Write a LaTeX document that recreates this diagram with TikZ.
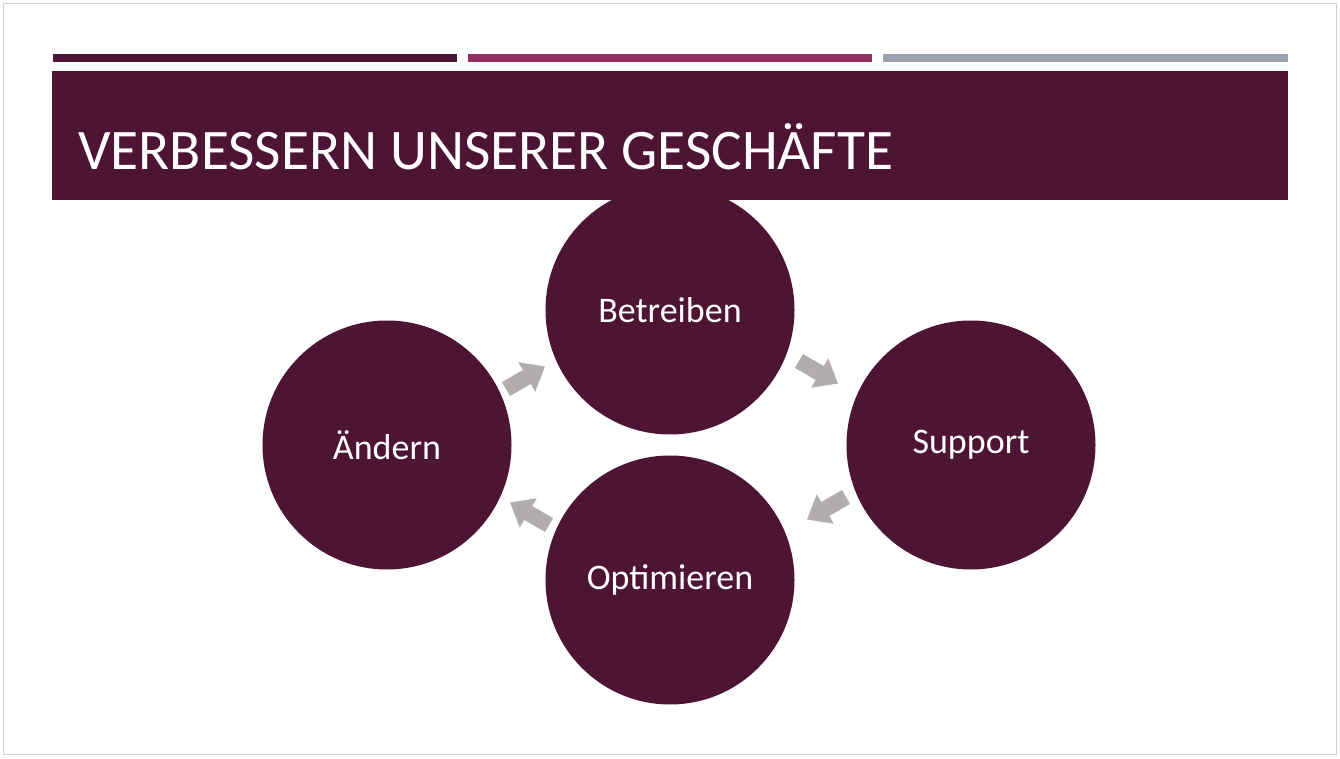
\documentclass[tikz,border=0pt]{standalone}
\usepackage{fontspec}
\setmainfont{Carlito}
\definecolor{dk}{HTML}{4E1433}
\definecolor{mg}{HTML}{93305F}
\definecolor{gr}{HTML}{9AA2AB}
\definecolor{ar}{HTML}{B1ACAE}
\begin{document}
\begin{tikzpicture}[x=0.75pt,y=0.75pt,
 circ/.style={circle,fill=dk,minimum size=249*0.75pt,inner sep=0pt,text=white,font=\fontsize{27}{30}\selectfont},
 blockarrow/.pic={\fill[ar] (-22,-8)--(2,-8)--(2,-17)--(23,0)--(2,17)--(2,8)--(-22,8)--cycle;}]
\useasboundingbox (0,0) rectangle (1340,758);
\draw[black!18] (3,4) rectangle (1336,755);
\fill[dk] (53,696) rectangle (457,704);
\fill[mg] (468,696) rectangle (872,704);
\fill[gr] (883,696) rectangle (1288,704);
\fill[dk] (52,558) rectangle (1288,687);
\node[anchor=base west,text=white,font=\fontsize{43}{46}\selectfont,inner sep=0pt] (title) at (78,588) {VERBESSERN UNSERER GESCHÄFTE};
\node[circ] (b) at (670,448) {Betreiben};
\node[circ] (a) at (387,313) {Ändern};
\node[circ] (s) at (971,313) {Support};
\node[circ] (o) at (670,178) {Optimieren};
\pic[rotate=30] at (525,380) {blockarrow};
\pic[rotate=-30] at (818,386) {blockarrow};
\pic[rotate=210] at (827,250) {blockarrow};
\pic[rotate=150] at (530,244) {blockarrow};
\end{tikzpicture}
\end{document}
